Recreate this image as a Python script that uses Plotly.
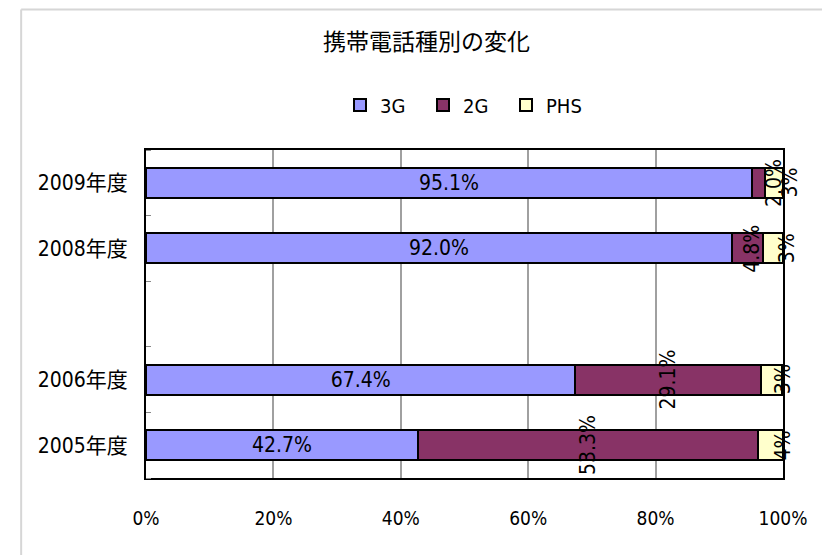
import plotly.graph_objects as go

# ---- data ----
years = [2005, 2006, 2008, 2009]
year_labels = ["2005年度", "2006年度", "2008年度", "2009年度"]
share_3g = [42.7, 67.4, 92.0, 95.1]
share_2g = [53.3, 29.1, 4.8, 2.0]
share_phs = [4.0, 3.4, 3.2, 2.9]
x_ticks = [0, 20, 40, 60, 80, 100]

FONT = "DejaVu Sans Condensed, Noto Sans CJK JP, sans-serif"
COL_3G = "#9999FF"
COL_2G = "#883366"
COL_PHS = "#FFFFCC"

fig = go.Figure()

fig.add_trace(go.Bar(
    y=years, x=share_3g, orientation="h", name="3G",
    marker=dict(color=COL_3G, line=dict(color="black", width=2)),
    text=[f"{v:.1f}%" for v in share_3g],
    textposition="inside", insidetextanchor="middle", textangle=0,
    textfont=dict(size=21, color="black", family=FONT),
))
fig.add_trace(go.Bar(
    y=years, x=share_2g, orientation="h", name="2G",
    marker=dict(color=COL_2G, line=dict(color="black", width=2)),
))
fig.add_trace(go.Bar(
    y=years, x=share_phs, orientation="h", name="PHS",
    marker=dict(color=COL_PHS, line=dict(color="black", width=2)),
))

# ---- rotated labels for 2G / PHS ----
shift_2g = {2009: 16, 2008: 5}
shift_phs = {2005: 13, 2006: 11, 2008: 15, 2009: 16}
for yr, a, b, c in zip(years, share_3g, share_2g, share_phs):
    fig.add_annotation(
        x=a + b / 2, y=yr, text=f"{b:.1f}%", textangle=-90, showarrow=False,
        xshift=shift_2g.get(yr, 0),
        font=dict(size=21, color="black", family=FONT),
    )
    fig.add_annotation(
        x=a + b + c / 2, y=yr, text=f"{c:.0f}%", textangle=-90, showarrow=False,
        xshift=shift_phs.get(yr, 0),
        font=dict(size=21, color="black", family=FONT),
    )

# ---- light outer frame ----
fig.add_shape(type="line", xref="paper", yref="paper",
              x0=-0.196, x1=1.2, y0=1.428, y1=1.428,
              line=dict(color="#d6d6d6", width=2))
fig.add_shape(type="line", xref="paper", yref="paper",
              x0=-0.196, x1=-0.196, y0=1.428, y1=-0.3,
              line=dict(color="#d6d6d6", width=2))

fig.update_layout(
    width=822, height=547,
    barmode="stack", bargap=0.54,
    plot_bgcolor="white", paper_bgcolor="white",
    font=dict(family=FONT, size=21, color="black"),
    title=dict(text="携帯電話種別の変化", x=0.509, xanchor="center",
               y=0.938, yanchor="middle", font=dict(size=23)),
    legend=dict(orientation="h", x=0.5, xanchor="center", y=1.137,
                yanchor="middle", font=dict(size=20), traceorder="normal",
                entrywidth=38, itemwidth=30),
    margin=dict(l=138, r=47, t=142, b=77),
    showlegend=True,
)
fig.update_xaxes(
    range=[0, 100], tickvals=x_ticks, ticktext=[f"{t}%" for t in x_ticks],
    tickfont=dict(size=19),
    showgrid=True, gridcolor="#a0a0a0", gridwidth=1.5,
    showline=True, linecolor="black", linewidth=2, mirror=True,
    ticks="", ticklabelstandoff=22, zeroline=False,
)
fig.update_yaxes(
    range=[2004.5, 2009.5], tickvals=years, ticktext=year_labels,
    showgrid=False, showline=True, linecolor="black", linewidth=2, mirror=True,
    ticks="", ticklabelstandoff=12, zeroline=False,
    minor=dict(tick0=2004.5, dtick=1, ticks="inside", ticklen=5,
               tickcolor="#888888", showgrid=False),
)

fig.write_html("out.html")
